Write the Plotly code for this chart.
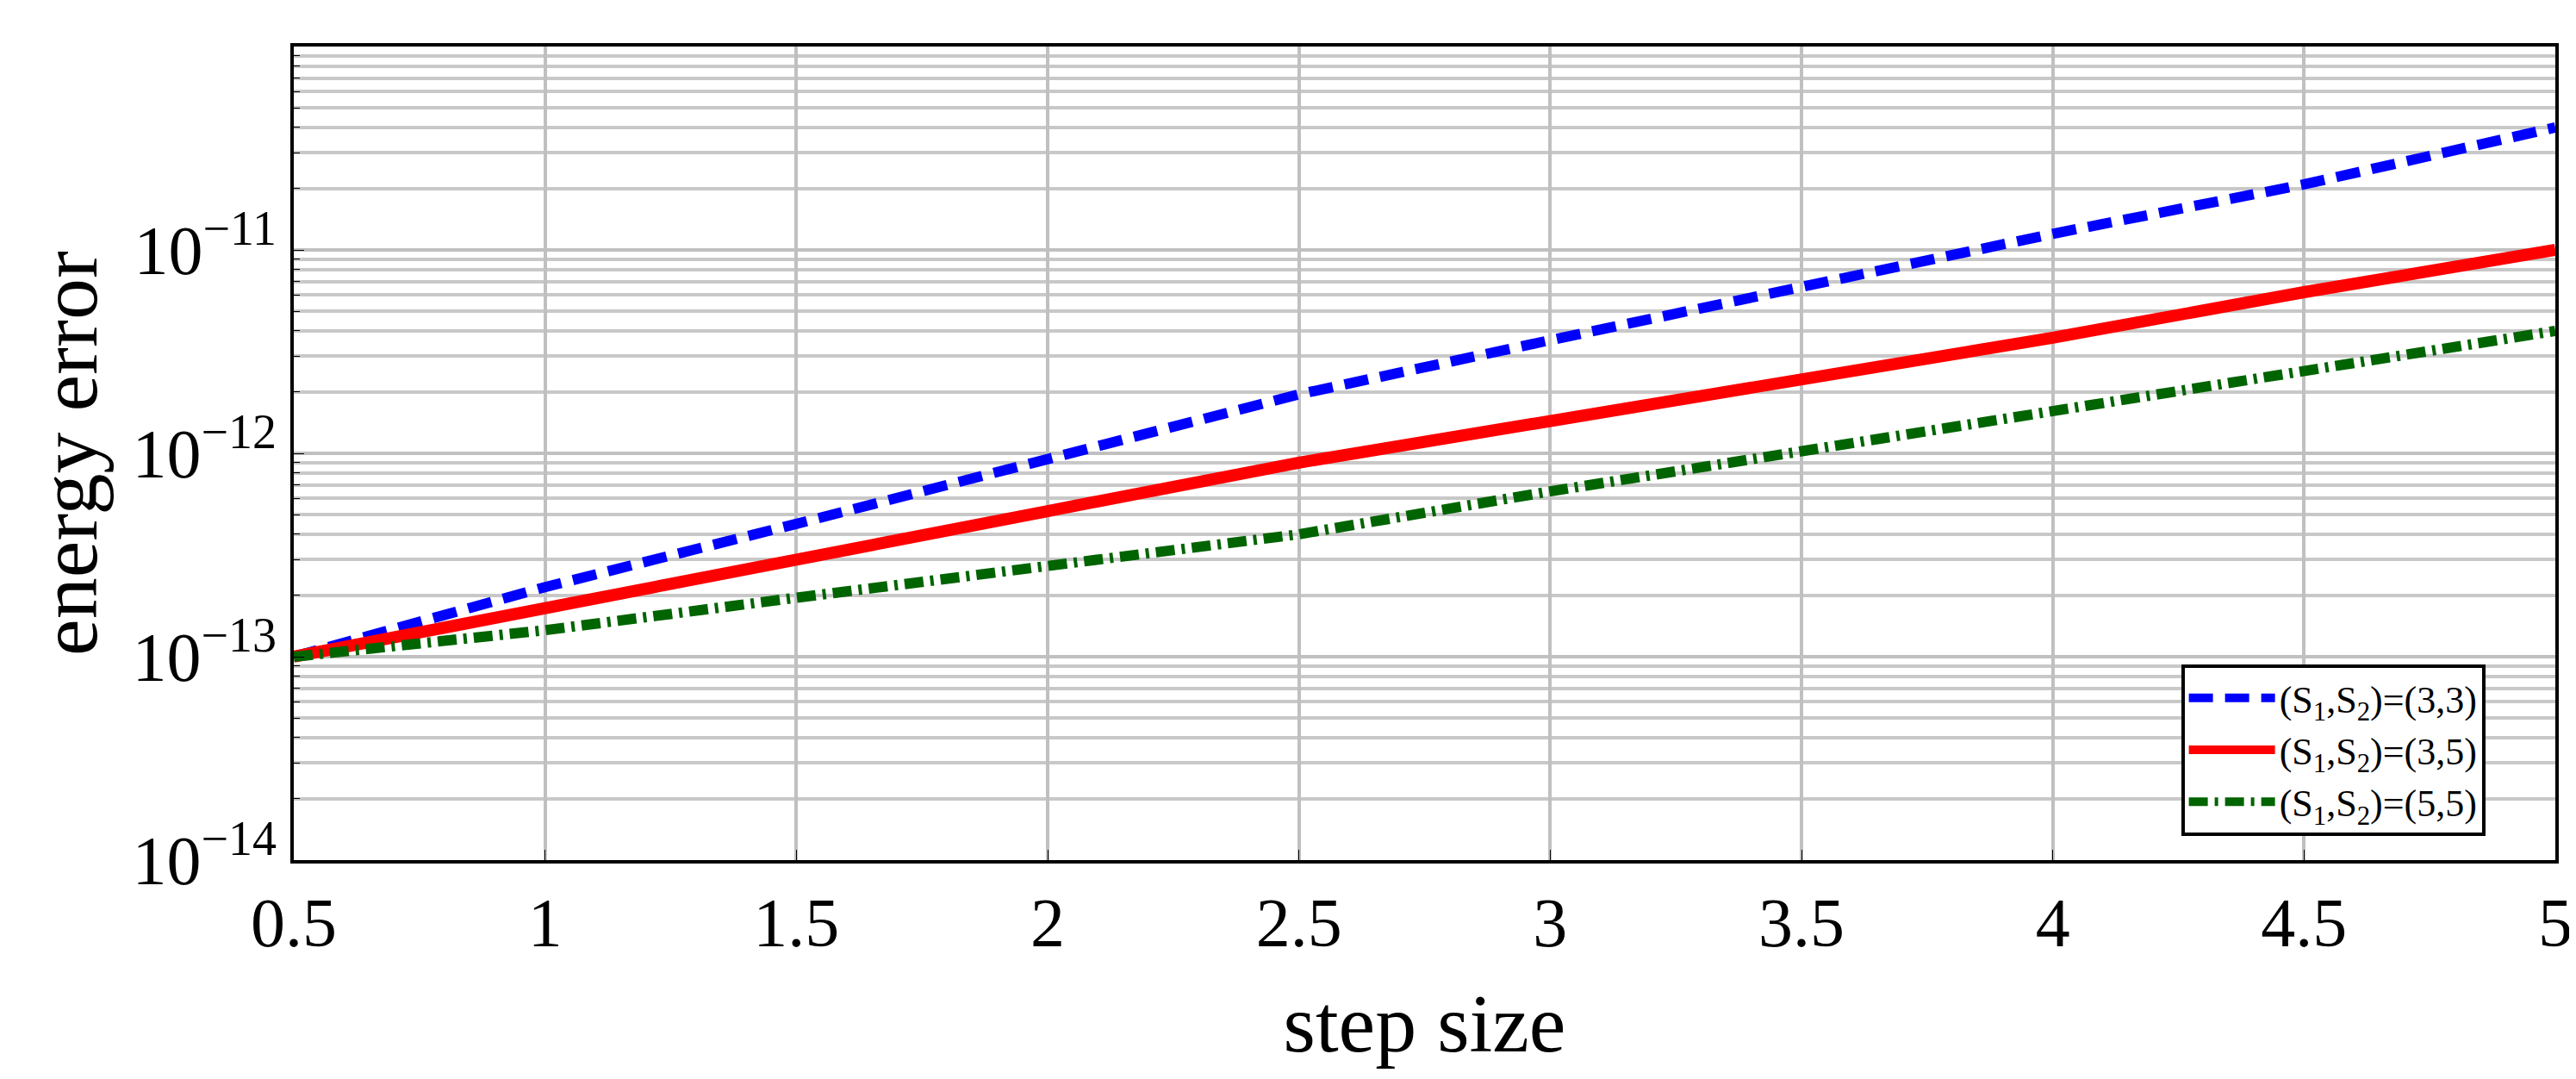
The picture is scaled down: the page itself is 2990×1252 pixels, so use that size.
import plotly.graph_objects as go

step = [0.5, 1, 1.5, 2, 2.5, 3, 3.5, 4, 4.5, 5]
err_33 = [1e-13, 2.2e-13, 4.5e-13, 9.5e-13, 1.95e-12, 3.6e-12, 6.5e-12, 1.2e-11, 2.1e-11, 4e-11]
err_35 = [1e-13, 1.75e-13, 3e-13, 5.2e-13, 9e-13, 1.45e-12, 2.3e-12, 3.7e-12, 6.2e-12, 1e-11]
err_55 = [1e-13, 1.35e-13, 1.95e-13, 2.8e-13, 4e-13, 6.5e-13, 1.02e-12, 1.6e-12, 2.5e-12, 4e-12]
names = ["(S<sub>1</sub>,S<sub>2</sub>)=(3,3)", "(S<sub>1</sub>,S<sub>2</sub>)=(3,5)", "(S<sub>1</sub>,S<sub>2</sub>)=(5,5)"]
xticks = [0.5, 1, 1.5, 2, 2.5, 3, 3.5, 4, 4.5, 5]
xticktext = ["0.5", "1", "1.5", "2", "2.5", "3", "3.5", "4", "4.5", "5"]
yticks = [1e-14, 1e-13, 1e-12, 1e-11, 1e-10]
yticktext = ["10<sup>−14</sup>", "10<sup>−13</sup>", "10<sup>−12</sup>", "10<sup>−11</sup>", "10<sup>−10</sup>"]
minor = [m * d for d in [1e-14, 1e-13, 1e-12, 1e-11] for m in range(2, 10)]

fig = go.Figure()
fig.add_trace(go.Scatter(x=step, y=err_33, mode="lines", name=names[0],
                         line=dict(color="#0000ff", width=12, dash="28px,14px")))
fig.add_trace(go.Scatter(x=step, y=err_35, mode="lines", name=names[1],
                         line=dict(color="#ff0000", width=14)))
fig.add_trace(go.Scatter(x=step, y=err_55, mode="lines", name=names[2],
                         line=dict(color="#006400", width=12, dash="22px,8px,4px,8px")))

font = "Liberation Serif"
fig.update_layout(
    width=2990, height=1252, plot_bgcolor="white", paper_bgcolor="white",
    margin=dict(l=333, r=29, t=46, b=262),
    font=dict(family=font, size=80, color="black"),
    legend=dict(x=0.969, y=0.03, xanchor="right", yanchor="bottom",
                bgcolor="white", bordercolor="black", borderwidth=4,
                font=dict(size=44, family=font), tracegroupgap=16, itemwidth=100),
)
fig.update_xaxes(range=[0.5, 5], tickvals=xticks, ticktext=xticktext,
                 showgrid=True, gridcolor="#c0c0c0", gridwidth=4,
                 showline=True, linecolor="black", linewidth=4, mirror=True,
                 ticks="inside", ticklen=12, tickcolor="black",
                 title=dict(text="step size", standoff=40), zeroline=False)
fig.update_yaxes(type="log", range=[-14, -10], tickvals=yticks, ticktext=yticktext,
                 showgrid=True, gridcolor="#c0c0c0", gridwidth=4,
                 minor=dict(tickvals=minor, showgrid=True, gridcolor="#c8c8c8", gridwidth=4,
                            ticks="inside", ticklen=7, tickcolor="black"),
                 showline=True, linecolor="black", linewidth=4, mirror=True,
                 ticks="inside", ticklen=12, tickcolor="black",
                 title=dict(text="energy error", standoff=10), zeroline=False)
fig.write_html("out.html")
